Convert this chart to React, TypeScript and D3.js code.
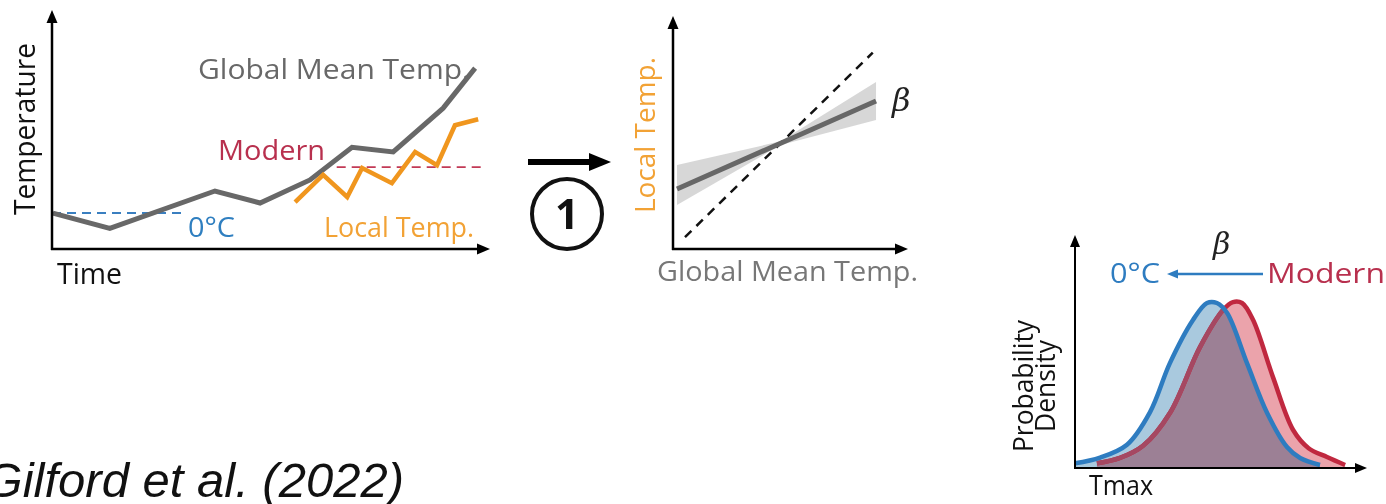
import React from "react";
import * as d3 from "d3";

// Panel A: temperature time series (time in arbitrary units 0–100, temperature anomaly)
const gmtTime = [0.2, 13.2, 37.2, 47.5, 58.9, 68.5, 77.9, 89.3, 96.6];
const gmtTemp = [0, -0.33, 0.48, 0.22, 0.72, 1.43, 1.33, 2.28, 3.15];
const localTime = [55.5, 61.9, 67.4, 70.8, 77.6, 82.9, 87.9, 92.0, 97.3];
const localTemp = [0.24, 0.83, 0.35, 0.98, 0.65, 1.33, 1.04, 1.91, 2.04];
const baselineLevel = 0;
const baselineSpan = [0, 30];
const modernLevel = 1;
const modernSpan = [65, 98];

// Panel B: local vs global regression with uncertainty band
const fitGlobal = [0.17, 4.58, 8.64];
const fitLocal = [2.6, 4.58, 6.41];
const bandUpper = [3.64, 4.66, 7.23];
const bandLower = [1.9, 4.5, 5.58];
const oneToOne = [0.51, 8.5];

// Panel C: Tmax probability densities
const zeroTmax = [0, 0.86, 1.78, 2.57, 3.25, 4.04, 4.52, 4.86, 5.21, 5.89, 6.58, 7.26, 7.71, 8.39];
const zeroDens = [0.02, 0.045, 0.1, 0.24, 0.45, 0.635, 0.708, 0.708, 0.665, 0.45, 0.236, 0.09, 0.043, 0.013];
const modTmax = [0.75, 1.54, 2.33, 3.25, 4.28, 5.07, 5.41, 5.72, 6.1, 6.78, 7.47, 8.0, 8.63, 9.25];
const modDens = [0.02, 0.043, 0.095, 0.236, 0.519, 0.678, 0.712, 0.708, 0.635, 0.39, 0.163, 0.085, 0.047, 0.013];

const FONT = "'Open Sans', 'Noto Sans', sans-serif";
const SERIF = "'DejaVu Serif', 'Liberation Serif', serif";
const GRAY = "#686868";
const ORANGE = "#f0961e";
const BLUE = "#2e7cc0";
const RED = "#c0283f";

function Arrow({ x1, y1, x2, y2, w = 2.5, head = 13, hw = 5.5, color = "#000" }) {
  const ang = Math.atan2(y2 - y1, x2 - x1);
  const bx = x2 - head * Math.cos(ang);
  const by = y2 - head * Math.sin(ang);
  const px = -Math.sin(ang) * hw;
  const py = Math.cos(ang) * hw;
  return (
    <g>
      <line x1={x1} y1={y1} x2={bx + Math.cos(ang)} y2={by + Math.sin(ang)} stroke={color} strokeWidth={w} />
      <path d={`M${x2},${y2}L${bx + px},${by + py}L${bx - px},${by - py}Z`} fill={color} />
    </g>
  );
}

function PanelA() {
  const x = d3.scaleLinear().domain([0, 100]).range([52, 490]);
  const y = d3.scaleLinear().domain([-0.78, 4.37]).range([249, 12]);
  const mk = (ts: number[], vs: number[]) =>
    d3.line<[number, number]>().x((d) => x(d[0])).y((d) => y(d[1]))(ts.map((t, i) => [t, vs[i]]));
  return (
    <g>
      <line x1={x(baselineSpan[0])} x2={x(baselineSpan[1])} y1={y(baselineLevel)} y2={y(baselineLevel)} stroke="#3a7fc0" strokeWidth={2} strokeDasharray="9,6" />
      <line x1={x(modernSpan[0])} x2={x(modernSpan[1])} y1={y(modernLevel)} y2={y(modernLevel)} stroke="#c23a56" strokeWidth={1.8} strokeDasharray="9,6" />
      <path d={mk(gmtTime, gmtTemp) || ""} fill="none" stroke={GRAY} strokeWidth={5} strokeLinejoin="miter" />
      <path d={mk(localTime, localTemp) || ""} fill="none" stroke={ORANGE} strokeWidth={4.5} strokeLinejoin="miter" />
      <Arrow x1={x(0)} y1={y.range()[0] + 1} x2={x(0)} y2={y.range()[1] - 2} />
      <Arrow x1={x(0) - 1} y1={y.range()[0]} x2={x(100)} y2={y.range()[0]} />
      <text x={198} y={79} fontFamily={FONT} fontSize={28} fill={GRAY} textLength={272} lengthAdjust="spacingAndGlyphs">Global Mean Temp.</text>
      <text x={218} y={160} fontFamily={FONT} fontSize={28} fill="#b8304e" textLength={107} lengthAdjust="spacingAndGlyphs">Modern</text>
      <text x={188} y={237} fontFamily={FONT} fontSize={28} fill="#2f7fc0" textLength={47} lengthAdjust="spacingAndGlyphs">0°C</text>
      <text x={324} y={237} fontFamily={FONT} fontSize={28} fill="#f2a235" textLength={150} lengthAdjust="spacingAndGlyphs">Local Temp.</text>
      <text x={57} y={284} fontFamily={FONT} fontSize={30} fill="#111" textLength={65} lengthAdjust="spacingAndGlyphs">Time</text>
      <text transform="translate(35,129) rotate(-90)" textAnchor="middle" fontFamily={FONT} fontSize={29} fill="#111" textLength={172} lengthAdjust="spacingAndGlyphs">Temperature</text>
    </g>
  );
}

function PanelB() {
  const x = d3.scaleLinear().domain([0, 10]).range([673, 908]);
  const y = d3.scaleLinear().domain([0, 10]).range([249, 18]);
  const band = d3
    .area<number>()
    .x((d) => x(d))
    .y0((_, i) => y(bandLower[i]))
    .y1((_, i) => y(bandUpper[i]))(fitGlobal);
  const fit = d3.line<number>().x((d) => x(d)).y((_, i) => y(fitLocal[i]))(fitGlobal);
  return (
    <g>
      {/* step 1 arrow and circled label */}
      <Arrow x1={528} y1={162} x2={611} y2={162} w={6} head={22} hw={9} />
      <circle cx={567} cy={214} r={35} fill="none" stroke="#111" strokeWidth={4} />
      <text x={567} y={229} textAnchor="middle" fontFamily={FONT} fontWeight={700} fontSize={42} fill="#111">1</text>

      <path d={band || ""} fill="#d3d3d3" opacity={0.9} />
      <line x1={x(oneToOne[0])} y1={y(oneToOne[0])} x2={x(oneToOne[1])} y2={y(oneToOne[1])} stroke="#111" strokeWidth={2.5} strokeDasharray="9,7" />
      <path d={fit || ""} fill="none" stroke="#676767" strokeWidth={5} />
      <Arrow x1={x(0)} y1={y(0) + 1} x2={x(0)} y2={y(10) - 2} />
      <Arrow x1={x(0) - 1} y1={y(0)} x2={x(10)} y2={y(0)} />
      <text x={892} y={111} fontFamily={SERIF} fontStyle="italic" fontSize={32} fill="#222">β</text>
      <text transform="translate(655,135) rotate(-90)" textAnchor="middle" fontFamily={FONT} fontSize={28} fill="#f2a235" textLength={156} lengthAdjust="spacingAndGlyphs">Local Temp.</text>
      <text x={657} y={281} fontFamily={FONT} fontSize={28} fill="#777" textLength={261} lengthAdjust="spacingAndGlyphs">Global Mean Temp.</text>
    </g>
  );
}

function PanelC() {
  const x = d3.scaleLinear().domain([0, 10]).range([1075, 1367]);
  const y = d3.scaleLinear().domain([0, 1]).range([468, 235]);
  const pts = (ts: number[], ds: number[]) => ts.map((t, i) => [t, ds[i]] as [number, number]);
  const curve = d3.curveCatmullRom.alpha(0.5);
  const area = d3.area<[number, number]>().x((d) => x(d[0])).y0(y(0)).y1((d) => y(d[1])).curve(curve);
  const line = d3.line<[number, number]>().x((d) => x(d[0])).y((d) => y(d[1])).curve(curve);
  const zero = pts(zeroTmax, zeroDens);
  const mod = pts(modTmax, modDens);
  return (
    <g>
      <defs>
        <clipPath id="zeroArea">
          <path d={area(zero) || ""} />
        </clipPath>
      </defs>
      <path d={area(mod) || ""} fill="#eba3ab" />
      <path d={area(zero) || ""} fill="#a9c9de" style={{ mixBlendMode: "multiply" }} />
      <path d={line(mod) || ""} fill="none" stroke={RED} strokeWidth={4.5} />
      <path d={line(mod) || ""} fill="none" stroke="#a54862" strokeWidth={4.5} clipPath="url(#zeroArea)" />
      <path d={line(zero) || ""} fill="none" stroke={BLUE} strokeWidth={4.5} />
      <Arrow x1={x(0)} y1={y(0) + 1} x2={x(0)} y2={y(1)} w={2} head={12} hw={5} />
      <Arrow x1={x(0) - 1} y1={y(0)} x2={x(10)} y2={y(0)} w={2} head={12} hw={5} />

      <Arrow x1={1263} y1={274} x2={1167} y2={274} w={2.5} head={11} hw={4.5} color={BLUE} />
      <text x={1110} y={283} fontFamily={FONT} fontSize={27} fill={BLUE} textLength={50} lengthAdjust="spacingAndGlyphs">0°C</text>
      <text x={1267} y={283} fontFamily={FONT} fontSize={27} fill="#b8304e" textLength={118} lengthAdjust="spacingAndGlyphs">Modern</text>
      <text x={1213} y={254} fontFamily={SERIF} fontStyle="italic" fontSize={30} fill="#222">β</text>
      <text transform="translate(1033,386) rotate(-90)" textAnchor="middle" fontFamily={FONT} fontSize={27} fill="#111" textLength={132} lengthAdjust="spacingAndGlyphs">Probability</text>
      <text transform="translate(1055,386) rotate(-90)" textAnchor="middle" fontFamily={FONT} fontSize={27} fill="#111" textLength={92} lengthAdjust="spacingAndGlyphs">Density</text>
      <text x={1089} y={495} fontFamily={FONT} fontSize={27} fill="#111" textLength={64} lengthAdjust="spacingAndGlyphs">Tmax</text>
    </g>
  );
}

export default function App() {
  return (
    <svg width={1386} height={504} viewBox="0 0 1386 504" style={{ position: "absolute", left: 0, top: 0, background: "#fff" }}>
      <rect width={1386} height={504} fill="#fff" />
      <PanelA />
      <PanelB />
      <PanelC />
      <text x={404} y={497} textAnchor="end" fontFamily="'Liberation Sans', Arial, sans-serif" fontStyle="italic" fontSize={49} fill="#111">Gilford et al. (2022)</text>
    </svg>
  );
}
